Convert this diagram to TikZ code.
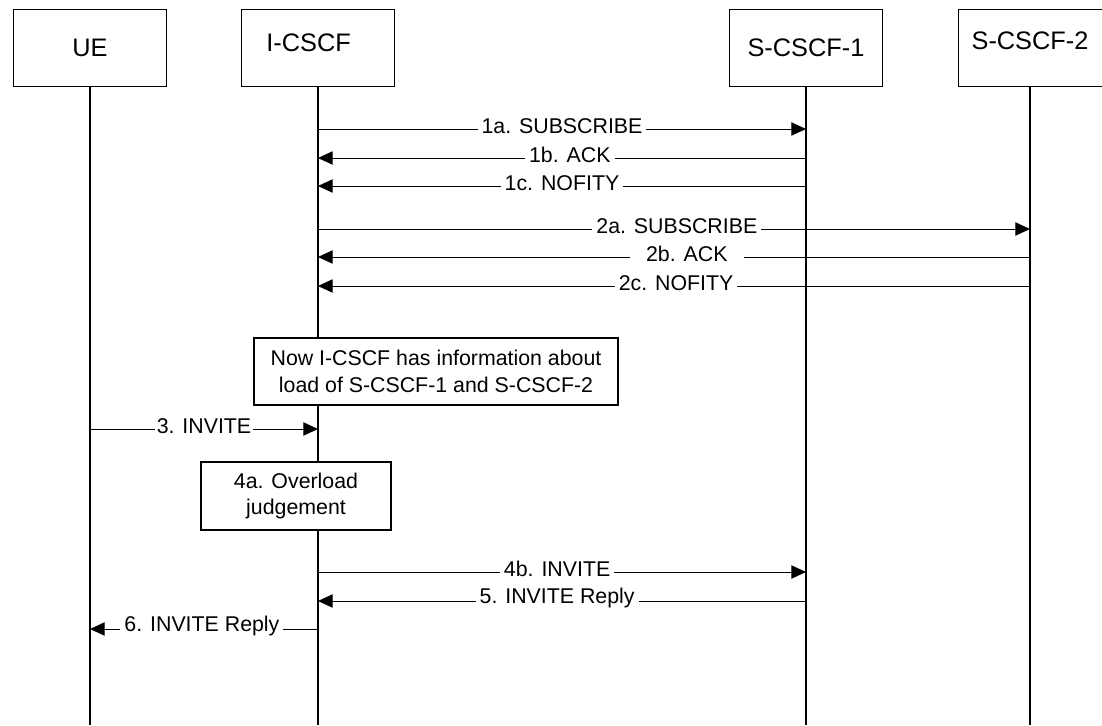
\documentclass[tikz,border=0pt]{standalone}
\usepackage{fontspec}
\setmainfont{Liberation Sans}
\usetikzlibrary{arrows.meta}

\tikzset{
    entity/.style={draw, fill=white, line width=0.75pt, minimum width=114.75pt, minimum height=57.75pt, inner sep=0pt, font=\fontsize{19}{23}\selectfont},
    notebox/.style={draw, fill=white, line width=0.9pt, align=center, inner sep=0pt},
    life/.style={line width=0.9pt},
    msg/.style={line width=0.75pt, -{Triangle[length=11pt,width=10pt]}},
    lbl/.style={fill=white, inner ysep=1pt, inner xsep=3pt, yshift=2pt}
}

\begin{document}
\begin{tikzpicture}[x=0.75pt, y=-0.75pt, font=\fontsize{16}{20}\selectfont]
    \useasboundingbox (0,0) rectangle (1102,725);

    % entities
    \node[entity] (ue) at (90,47.5) {UE};
    \node[entity, label={[xshift=-7pt, yshift=3.5pt, font=\fontsize{19}{23}\selectfont]center:I-CSCF}] (icscf) at (318,47.5) {};
    \node[entity] (scscf1) at (806,47.5) {S-CSCF-1};
    \node[entity, minimum width=108pt, label={[yshift=5pt, font=\fontsize{19}{23}\selectfont]center:S-CSCF-2}] (scscf2) at (1030,47.5) {};

    % lifelines
    \coordinate (bottom) at (0,725);
    \draw[life] (ue.south) -- (ue |- bottom);
    \draw[life] (icscf.south) -- (icscf |- bottom);
    \draw[life] (scscf1.south) -- (scscf1 |- bottom);
    \draw[life] (scscf2.south) -- (scscf2 |- bottom);

    % message levels
    \coordinate (y1a) at (0,129);
    \coordinate (y1b) at (0,158);
    \coordinate (y1c) at (0,186);
    \coordinate (y2a) at (0,229);
    \coordinate (y2b) at (0,257);
    \coordinate (y2c) at (0,286);
    \coordinate (y3) at (0,429);
    \coordinate (y4b) at (0,572);
    \coordinate (y5) at (0,601);
    \coordinate (y6) at (0,629);

    % subscription to S-CSCF-1
    \draw[msg] (icscf |- y1a) -- node[lbl, pos=0.5] {1a. SUBSCRIBE} (scscf1 |- y1a);
    \draw[msg] (scscf1 |- y1b) -- node[lbl, pos=0.484] {1b. ACK} (icscf |- y1b);
    \draw[msg] (scscf1 |- y1c) -- node[lbl, pos=0.5] {1c. NOFITY} (icscf |- y1c);

    % subscription to S-CSCF-2
    \draw[msg] (icscf |- y2a) -- node[lbl, pos=0.504] {2a. SUBSCRIBE} (scscf2 |- y2a);
    \draw[msg] (scscf2 |- y2b) -- node[lbl, pos=0.482, inner xsep=12pt] {2b. ACK} (icscf |- y2b);
    \draw[msg] (scscf2 |- y2c) -- node[lbl, pos=0.497] {2c. NOFITY} (icscf |- y2c);

    \node[notebox, minimum width=273pt, minimum height=50.25pt] (info) at (436,371.5)
        {Now I-CSCF has information about\\load of S-CSCF-1 and S-CSCF-2};

    % call setup
    \draw[msg] (ue |- y3) -- node[lbl, pos=0.5, inner xsep=1pt] {3. INVITE} (icscf |- y3);

    \node[notebox, minimum width=142.5pt, minimum height=51pt] (judge) at (296,496)
        {4a. Overload\\judgement};

    \draw[msg] (icscf |- y4b) -- node[lbl, pos=0.49] {4b. INVITE} (scscf1 |- y4b);
    \draw[msg] (scscf1 |- y5) -- node[lbl, pos=0.51] {5. INVITE Reply} (icscf |- y5);
    \draw[msg] (icscf |- y6) -- node[lbl, pos=0.509] {6. INVITE Reply} (ue |- y6);
\end{tikzpicture}
\end{document}
